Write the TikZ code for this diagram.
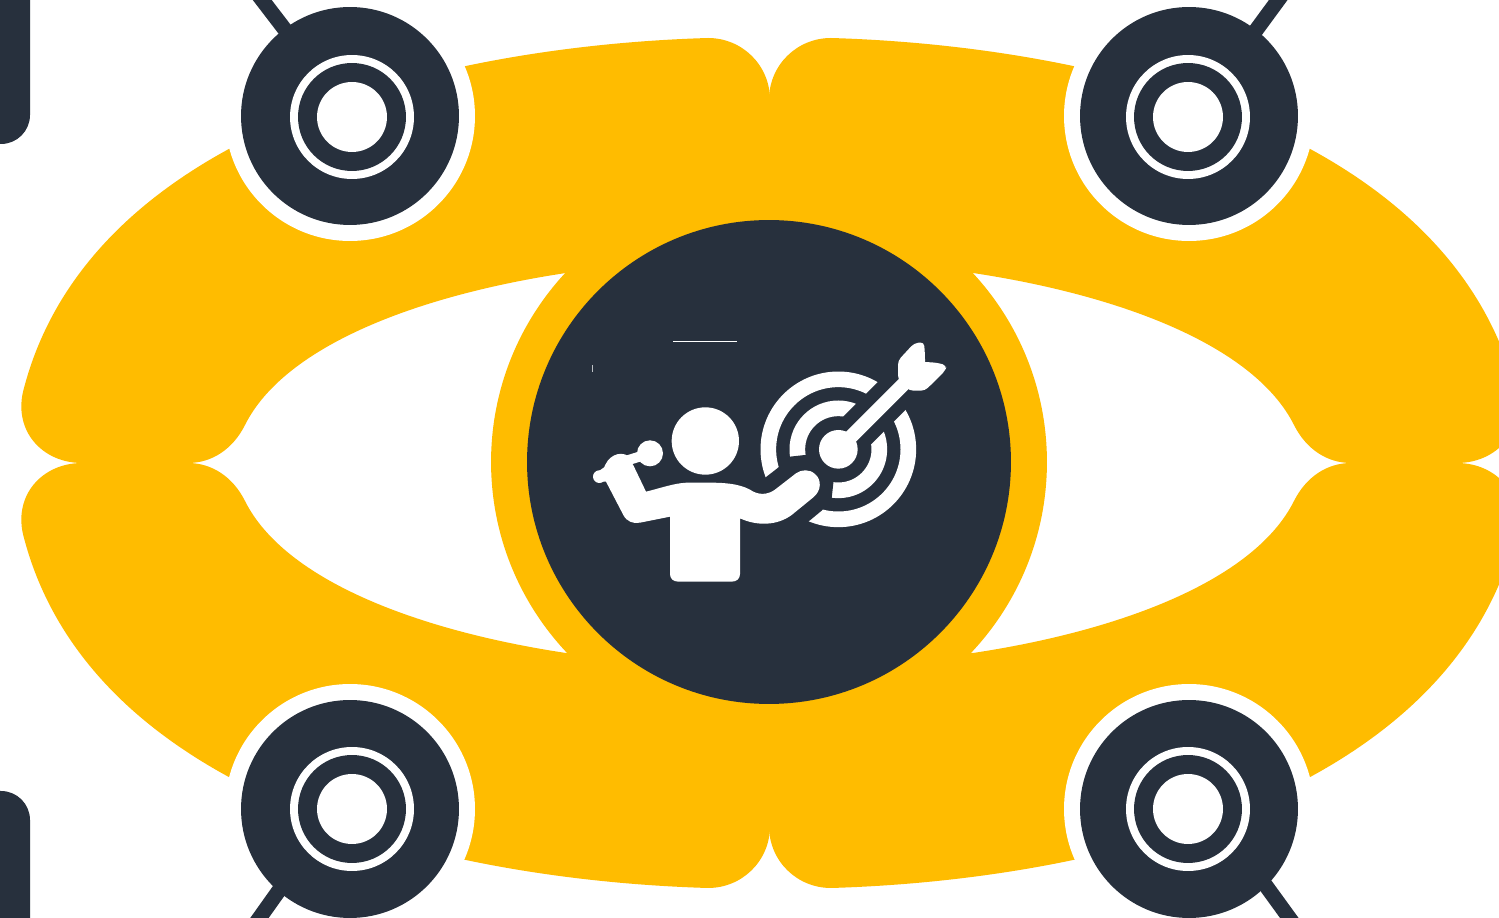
\documentclass[tikz,border=0pt]{standalone}
\usepackage{xcolor}
\usepackage{tikz}
\definecolor{eyegold}{HTML}{FFBC00}
\definecolor{inkdark}{HTML}{27303D}
\newcommand{\lobe}{%
    (770,100) .. controls (770,65) and (742,38) .. (708,38)
    .. controls (440,46) and (92,130) .. (24,388)
    .. controls (12,430) and (42,463) .. (82,463)
    -- (188,463) .. controls (212,463) and (233,449) .. (245,425)
    .. controls (285,345) and (420,295) .. (566,273)
    -- (770,300) -- cycle}
\tikzset{
    lobefill/.style={fill=eyegold, draw=none},
    whitedisc/.style={circle, fill=white, inner sep=0pt, minimum size=5cm},
    darkdisc/.style={circle, fill=inkdark, inner sep=0pt, minimum size=4.36cm},
    ringwhite/.style={circle, fill=white, inner sep=0pt, minimum size=2.48cm},
    ringdark/.style={circle, fill=inkdark, inner sep=0pt, minimum size=2.16cm},
    ringhole/.style={circle, fill=white, inner sep=0pt, minimum size=1.4cm},
    stalk/.style={draw=inkdark, line width=0.3cm, shorten <=-0.4cm},
    targetring/.style={draw=white, line width=0.313cm},
}
\begin{document}
\begin{tikzpicture}[x=0.02cm, y=-0.02cm]
    \clip (0,0) rectangle (1499,918);
    \fill[white] (0,0) rectangle (1499,918);

    % Side bars
    \fill[inkdark, rounded corners=0.58cm] (-60,-60) rectangle (30,144);
    \fill[inkdark, rounded corners=0.58cm] (-60,791) rectangle (30,980);

    % Lobes
    \fill[lobefill] \lobe;
    \begin{scope}[shift={(1539,0)}, xscale=-1]
        \fill[lobefill] \lobe;
    \end{scope}
    \begin{scope}[shift={(0,926)}, yscale=-1]
        \fill[lobefill] \lobe;
    \end{scope}
    \begin{scope}[shift={(1539,926)}, xscale=-1, yscale=-1]
        \fill[lobefill] \lobe;
    \end{scope}

    % Centre disc
    \node[circle, fill=eyegold, inner sep=0pt, minimum size=11.12cm] (eyering) at (769,462) {};
    \node[circle, fill=inkdark, inner sep=0pt, minimum size=9.68cm] (eyedisc) at (769,462) {};

    % Top left
    \node[whitedisc] (tlback) at (350,116) {};
    \node[darkdisc] (tl) at (350,116) {};
    \coordinate (tltip) at (240,-29);
    \draw[stalk] (tl.127) -- (tltip);
    \node[ringwhite] (tlring) at (352,117) {};
    \node[ringdark] (tlinner) at (352,117) {};
    \node[ringhole] (tlhole) at (352,117) {};

    % Top right
    \node[whitedisc] (trback) at (1189,116) {};
    \node[darkdisc] (tr) at (1189,116) {};
    \coordinate (trtip) at (1299.5,-29);
    \draw[stalk] (tr.52.6) -- (trtip);
    \node[ringwhite] (trring) at (1188,117) {};
    \node[ringdark] (trinner) at (1188,117) {};
    \node[ringhole] (trhole) at (1188,117) {};

    % Bottom left
    \node[whitedisc] (blback) at (350,809) {};
    \node[darkdisc] (bl) at (350,809) {};
    \coordinate (bltip) at (231,958);
    \draw[stalk] (bl.229.5) -- (bltip);
    \node[ringwhite] (blring) at (352,809) {};
    \node[ringdark] (blinner) at (352,809) {};
    \node[ringhole] (blhole) at (352,809) {};

    % Bottom right
    \node[whitedisc] (brback) at (1189,809) {};
    \node[darkdisc] (br) at (1189,809) {};
    \coordinate (brtip) at (1314,952);
    \draw[stalk] (br.-45) -- (brtip);
    \node[ringwhite] (brring) at (1188,809) {};
    \node[ringdark] (brinner) at (1188,809) {};
    \node[ringhole] (brhole) at (1188,809) {};

    % Icon
    \begin{scope}[shift={(570,320)}, scale=1/3]
        % Target
        \draw[targetring] (805,388) circle (210);
        \draw[targetring] (805,388) circle (123);
        \draw[inkdark, line width=0.787cm] (805,388) -- (1120,73);
        \fill[inkdark] (560,493) -- (622,445) -- (660,410) -- (705,405) -- (805,388)
            -- (790,490) -- (785,535) -- (755,572) -- (715,605) -- (680,634) -- cycle;
        \fill[white] (805,388) circle (58);
        % Arrow
        \draw[white, line width=0.28cm] (805,388) -- (1010,183);
        \fill[white, rounded corners=0.08cm] (984,122) -- (1032,70) -- (1062,66) -- (1065,105)
            [sharp corners] -- (1065,126) [rounded corners=0.08cm] -- (1100,128)
            -- (1130,136) -- (1126,152) -- (1065,212) -- (1018,212) -- (984,178) -- cycle;
        % Person
        \fill[white] (406,363) circle (101);
        \fill[white] (300,590) -- (300,762) .. controls (300,776) and (310,785) .. (325,785)
            -- (485,785) .. controls (500,785) and (510,776) .. (510,762) -- (510,595)
            .. controls (560,618) and (620,618) .. (665,585) -- (730,532)
            .. controls (755,512) and (755,478) .. (735,462)
            .. controls (718,447) and (695,448) .. (678,460) -- (620,505)
            .. controls (600,522) and (575,527) .. (550,515)
            .. controls (520,495) and (480,488) .. (420,488) -- (350,488)
            .. controls (310,490) and (270,505) .. (228,515)
            -- (192,440) -- (175,408) .. controls (150,392) and (112,405) .. (100,450)
            -- (90,455) -- (95,485) -- (108,485) -- (160,585)
            .. controls (170,605) and (190,612) .. (210,608) -- cycle;
        % Dart in hand
        \fill[white] (240,400) circle (39);
        \fill[white] (88,470) circle (19);
        \draw[white, line width=0.2cm] (160,425) -- (240,400);
        \draw[white, line width=0.2cm] (88,470) -- (125,445);
        % Stray marks
        \draw[white, line width=0.02cm] (310,64) -- (500,64);
        \draw[white!70!inkdark, line width=0.02cm] (67,135) -- (67,156);
    \end{scope}
\end{tikzpicture}
\end{document}
